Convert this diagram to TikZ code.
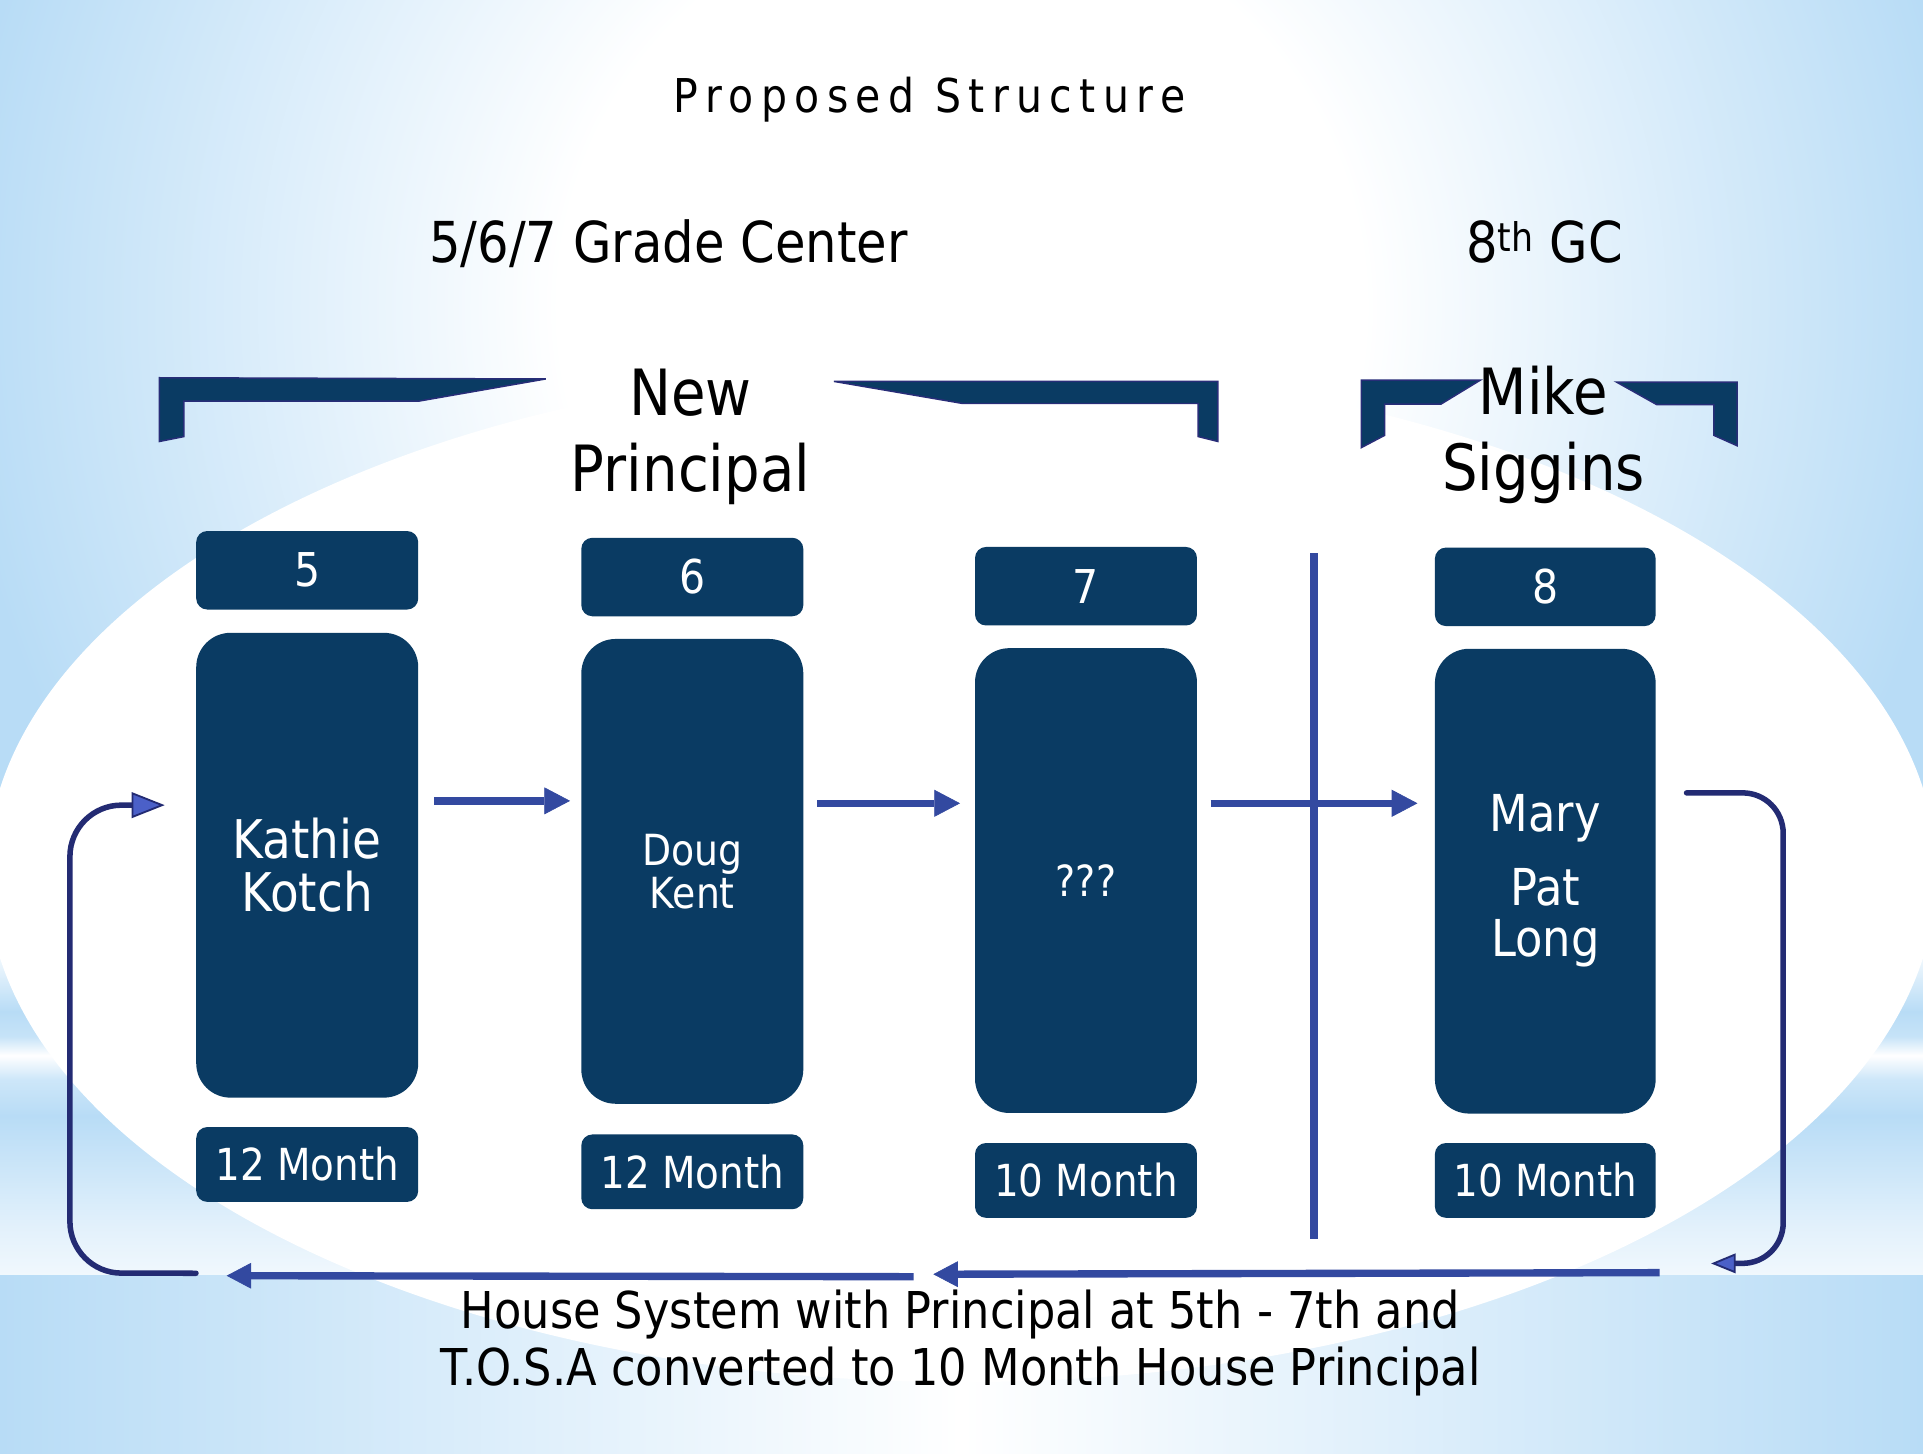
\documentclass[tikz,border=0pt]{standalone}
\usepackage{fontspec}
\setmainfont{DejaVu Sans}[FakeStretch=0.88]
\newfontfamily\spacedfont{DejaVu Sans}[FakeStretch=0.88,LetterSpace=16]
\usetikzlibrary{arrows.meta,calc}
\definecolor{bgblue}{RGB}{184,220,246}
\definecolor{navy}{RGB}{10,59,99}
\definecolor{lineblue}{RGB}{51,73,160}
\definecolor{loopnavy}{RGB}{35,43,115}
\definecolor{tipfill}{RGB}{75,96,200}
\definecolor{brackedge}{RGB}{40,45,120}
\colorlet{bgA}{bgblue!20!white}
\colorlet{bgB}{bgblue!40!white}
\colorlet{bgC}{bgblue!70!white}
\colorlet{bgD}{bgblue!80!white}
\pgfdeclareradialshading{bgglow}{\pgfpoint{0bp}{0bp}}{color(0bp)=(white); color(10bp)=(white); color(25bp)=(bgblue); color(50bp)=(bgblue)}
\pgfdeclareverticalshading{bandshade}{100bp}{color(0bp)=(bgA); color(25bp)=(bgA); color(30bp)=(bgB); color(41.7bp)=(bgblue); color(45.5bp)=(bgC); color(48bp)=(white); color(50bp)=(bgD); color(52.6bp)=(bgblue); color(59.6bp)=(white); color(75bp)=(white); color(100bp)=(white)}
\tikzset{
  bracket/.style={fill=navy, draw=brackedge, line width=1.2pt, line join=miter},
  numbox/.style={fill=navy, rounded corners=9pt, minimum width=181pt, minimum height=64pt, inner sep=0pt, text=white, font=\fontsize{38}{40}\selectfont},
  mainbox/.style={fill=navy, rounded corners=28pt, minimum width=181pt, minimum height=379pt, inner sep=0pt, text=white, align=center},
  monthbox/.style={fill=navy, rounded corners=9pt, minimum width=181pt, minimum height=61pt, inner sep=0pt, text=white, font=\fontsize{36}{38}\selectfont},
  harrow/.style={draw=lineblue, line width=6pt, -{Triangle[length=21pt,width=22pt,line width=0.5pt]}},
  barrow/.style={draw=lineblue, line width=6pt, -{Triangle[length=20pt,width=21pt,line width=0.5pt]}},
  divider/.style={draw=lineblue, line width=6pt},
  loopline/.style={draw=loopnavy, line width=4.5pt, line cap=round},
  heading/.style={text=black, inner sep=0pt}
}
\begin{document}
\begin{tikzpicture}[x=1pt,y=-1pt]
\useasboundingbox (0,0) rectangle (1568,1185);
% background
\fill[bgblue] (0,0) rectangle (1568,1185);
\begin{scope}
\clip (0,0) rectangle (1568,1185);
\shade[shading=bgglow] (784,250) circle [radius=820pt];
\shade[shading=bandshade] (0,650) rectangle (1568,1040);
\shade[left color=bgblue, right color=bgblue, middle color=white] (0,1040) rectangle (1568,1185);
\fill[white] (784,712) ellipse [x radius=795pt, y radius=415pt];
\end{scope}

% title and headings
\node[heading, font=\spacedfont\fontsize{38}{42}\selectfont, anchor=base] (title) at (758,92) {Proposed Structure};
\node[heading, font=\fontsize{46}{50}\selectfont, anchor=base] (grade) at (545,214) {5/6/7 Grade Center};
\node[heading, font=\fontsize{46}{50}\selectfont, anchor=base] (gc) at (1259.5,214) {8\textsuperscript{th} GC};

% brackets
\fill[bracket] (130,308) -- (445,309) -- (342,327) -- (150,327) -- (150,356) -- (130,360) -- cycle;
\fill[bracket] (680,311) -- (993,311) -- (993,360) -- (977,356) -- (977,329) -- (785,329) -- cycle;
\fill[bracket] (1110,310) -- (1207,310) -- (1175,329.5) -- (1129,329.5) -- (1129,355) -- (1110,365) -- cycle;
\fill[bracket] (1318,311.5) -- (1416.5,311.5) -- (1416.5,363.5) -- (1397.5,355) -- (1397.5,330) -- (1351,330) -- cycle;

\node[heading, font=\fontsize{52}{62}\selectfont, align=center] (newp) at (563,356) {New\\Principal};
\node[heading, font=\fontsize{52}{62}\selectfont, align=center] (mike) at (1258.5,355) {Mike\\Siggins};

% columns
\node[numbox] (n5) at (250.5,465) {5};
\node[mainbox, font=\fontsize{43.5}{43}\selectfont] (k5) at (250.5,705.5) {Kathie\\Kotch};
\node[monthbox] (m5) at (250.5,949.5) {12 Month};

\node[numbox] (n6) at (564.5,470.5) {6};
\node[mainbox, font=\fontsize{35}{35}\selectfont] (k6) at (564.5,710.5) {Doug\\Kent};
\node[monthbox] (m6) at (564.5,955.5) {12 Month};

\node[numbox] (n7) at (885.5,478) {7};
\node[mainbox, font=\fontsize{35}{35}\selectfont] (k7) at (885.5,718) {???};
\node[monthbox] (m7) at (885.5,962.5) {10 Month};

\node[numbox, minimum width=180pt] (n8) at (1260,478.5) {8};
\node[mainbox, minimum width=180pt, font=\fontsize{41.5}{42}\selectfont] (k8) at (1260,718.5) {Mary\\[18pt]Pat\\Long};
\node[monthbox, minimum width=180pt] (m8) at (1260,962.5) {10 Month};

% divider
\coordinate (divtop) at (1071.5,451);
\coordinate (divbot) at (1071.5,1010);
\draw[divider] (divtop) -- (divbot);

% horizontal arrows
\draw[harrow] ($(k5.east)+(13,-52.5)$) -- ($(k6.west)+(-9,-57.5)$);
\draw[harrow] ($(k6.east)+(11,-55.5)$) -- ($(k7.west)+(-12,-63)$);
\draw[harrow] ($(k7.east)+(11,-63)$) -- ($(k8.west)+(-14,-63.5)$);

% bottom arrows
\coordinate (bA1) at ($(m8.south east)+(3,44.5)$);
\coordinate (bA2) at (761,1039);
\coordinate (bB1) at (745,1041);
\coordinate (bB2) at ($(m5.south west)+(25,60)$);
\draw[barrow] (bA1) -- (bA2);
\draw[barrow] (bB1) -- (bB2);

% loops
\coordinate (lstart) at ($(m5.south west)+(0,58)$);
\coordinate (ltip) at ($(k5.west)+(-25.5,-49)$);
\draw[loopline, rounded corners=42pt, -{Triangle[length=27pt,width=21pt,line width=1.5pt,fill=tipfill]}]
  (lstart) -- (57,1038) -- (57,656.5) -- (ltip);
\coordinate (rstart) at ($(k8.east)+(25,-72)$);
\coordinate (rtip) at ($(m8.south east)+(45,37)$);
\draw[loopline, rounded corners=33pt, -{Triangle[length=20pt,width=16pt,line width=1.5pt,fill=tipfill]}]
  (rstart) -- (1454,646.5) -- (1454,1030) -- (rtip);

% bottom text
\node[heading, font=\fontsize{41.4}{47}\selectfont, align=center] (house) at (783,1095) {House System with Principal at 5th - 7th and\\T.O.S.A converted to 10 Month House Principal};
\end{tikzpicture}
\end{document}
